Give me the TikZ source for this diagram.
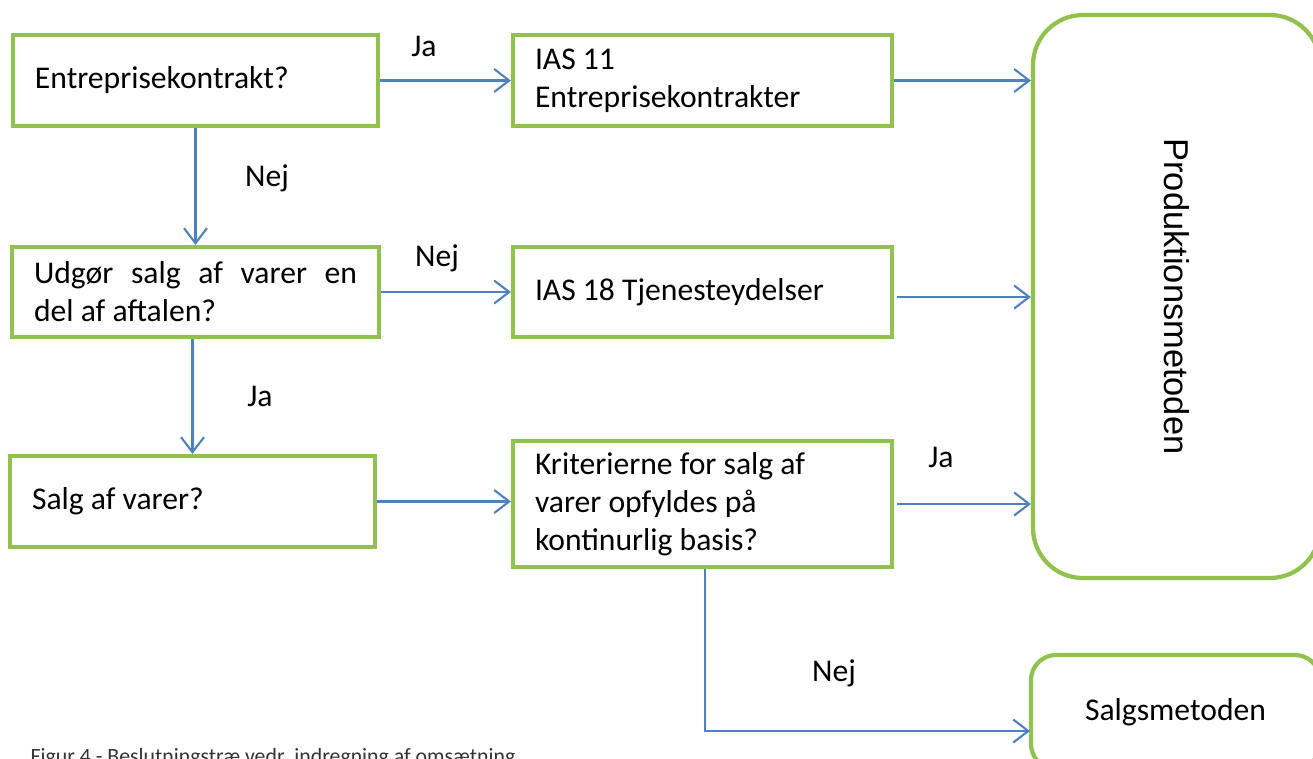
\documentclass[tikz,border=0pt]{standalone}
\usepackage{fontspec}
\setmainfont{Carlito}
\newfontfamily\arialf{Liberation Sans}
\usetikzlibrary{arrows.meta,calc}
\definecolor{boxgreen}{RGB}{145,193,78}
\definecolor{arrblue}{RGB}{79,129,189}
\tikzset{
  box/.style={draw=boxgreen, line width=1.2pt, fill=white, rectangle, align=justify,
    inner xsep=0.22cm, font=\fontsize{9}{10.8}\selectfont},
  rbox/.style={draw=boxgreen, line width=1.2pt, fill=white, rectangle},
  arr/.style={draw=arrblue, line width=0.6pt, -{Straight Barb[length=1.5mm,width=2.3mm]}},
  lbl/.style={font=\fontsize{9}{10.8}\selectfont, inner sep=0pt}
}
\begin{document}
\begin{tikzpicture}
\useasboundingbox (0,0) rectangle (13.13,-7.58);
% boxes
\node[box, minimum width=3.65cm, minimum height=0.91cm, text width=3.21cm] (A) at (1.955,-0.805) {Entreprisekontrakt?};
\node[box, minimum width=3.79cm, minimum height=0.91cm, text width=3.35cm] (B) at (7.025,-0.805) {IAS 11\\Entreprisekontrakter};
\node[box, minimum width=3.65cm, minimum height=0.90cm, text width=3.23cm] (C) at (1.955,-2.92) {Udgør salg af varer en\linebreak del af aftalen?};
\node[box, minimum width=3.79cm, minimum height=0.90cm, text width=3.35cm] (D) at (7.025,-2.92) {IAS 18 Tjenesteydelser};
\node[box, minimum width=3.65cm, minimum height=0.91cm, text width=3.21cm, inner xsep=0.2cm] (E) at (1.925,-5.015) {Salg af varer?};
\node[box, minimum width=3.79cm, minimum height=1.22cm, text width=3.35cm] (F) at (7.025,-5.04) {Kriterierne for salg af\\varer opfyldes på\\kontinurlig basis?};
\node[rbox, rounded corners=0.5cm, minimum width=2.87cm, minimum height=5.63cm] (P) at (11.765,-2.965) {};
\node[font=\arialf\fontsize{9.8}{11}\selectfont, rotate=-90, inner sep=0pt] (Pt) at (P.center) {Produktionsmetoden};
\node[rbox, rounded corners=0.25cm, minimum width=2.89cm, minimum height=1.14cm, font=\fontsize{9}{10.8}\selectfont] (S) at (11.755,-7.12) {Salgsmetoden};
\coordinate (sin) at (10.30,-7.31);
% connectors
\draw[arr] (A.east) -- (B.west);
\draw[arr] (B.east) -- (B.east -| P.west);
\draw[arr] (A.south) -- (C.north);
\draw[arr] (C.east) -- (D.west);
\draw[arr] ($(D.east)+(0.03,-0.05)$) -- ($(D.east -| P.west)+(0,-0.05)$);
\draw[arr] (E.north |- C.south) -- (E.north);
\draw[arr] (E.east) -- (E.east -| F.west);
\draw[arr] ($(F.east)+(0.03,0)$) -- (F.east -| P.west);
\draw[arr] ($(F.south)+(0.025,0)$) |- (sin);
% labels
\node[lbl] (l1) at (4.24,-0.46) {Ja};
\node[lbl] (l2) at (2.67,-1.78) {Nej};
\node[lbl] (l3) at (4.37,-2.58) {Nej};
\node[lbl] (l4) at (2.60,-3.96) {Ja};
\node[lbl] (l5) at (9.41,-4.57) {Ja};
\node[lbl] (l6) at (8.34,-6.73) {Nej};
% caption (cut off at bottom, as in the reference)
\node[anchor=base west, inner sep=0pt, font=\fontsize{6.2}{7}\selectfont, text=black!80] (cap) at (0.30,-7.63) {Figur 4 - Beslutningstræ vedr. indregning af omsætning};
\end{tikzpicture}
\end{document}
